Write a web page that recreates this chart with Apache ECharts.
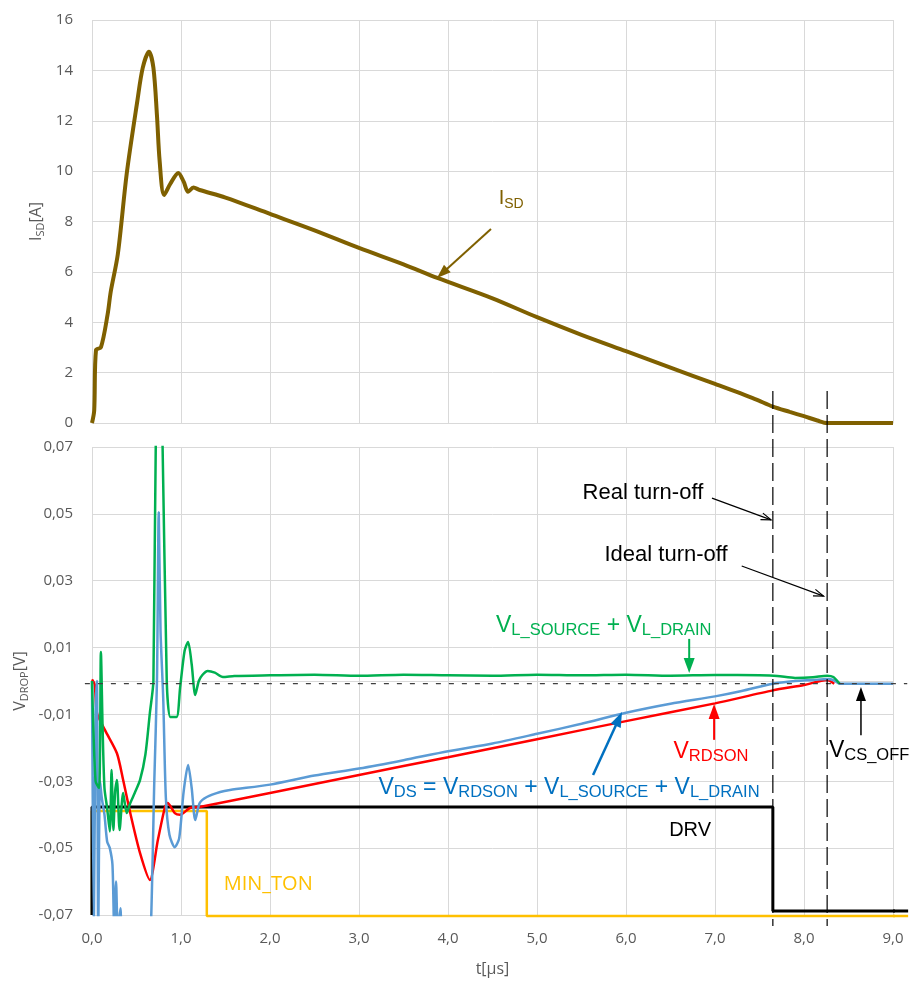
<!DOCTYPE html>
<html><head><meta charset="utf-8">
<script src="https://cdn.jsdelivr.net/npm/echarts/dist/echarts.min.js"></script>
<style>html,body{margin:0;padding:0;background:#fff}#c{width:910px;height:981px}</style>
</head><body><div id="c"></div>
<script>
// ---------- DATA ----------
const xTickLabels = ['0,0','1,0','2,0','3,0','4,0','5,0','6,0','7,0','8,0','9,0'];

const isdT = [0,0.025,0.045,0.1,0.175,0.21,0.29,0.39,0.51,0.57,0.64,0.69,0.73,0.76,0.81,0.88,0.97,1.03,1.08,1.14,1.21,1.5,2.0,2.5,3.0,3.5,3.88,4.5,5.0,5.5,6.0,6.5,7.0,7.45,7.65,7.84,8.0,8.15,8.26,9.0];
const isdA = [0,0.5,2.9,3.0,4.3,5.2,6.7,9.9,12.8,14.1,14.74,14.1,12.2,10.4,9.05,9.5,9.93,9.58,9.18,9.35,9.25,8.95,8.3,7.65,6.95,6.3,5.76,4.95,4.2,3.5,2.85,2.2,1.55,0.95,0.65,0.44,0.27,0.1,0,0];

const drvT = [0,0,7.65,7.65,9.17];
const drvV = [-0.07,-0.0377,-0.0377,-0.0688,-0.0688];

const minTonT = [0,0,1.29,1.29,9.17];
const minTonV = [-0.07,-0.0389,-0.0389,-0.0703,-0.0703];

const rdsT = [0,0.03,0.056,0.146,0.28,0.35,0.43,0.54,0.65,0.74,0.82,0.85,0.93,0.99,1.1,1.21,2.0,3.0,4.0,5.0,6.0,7.0,7.65,8.0,8.26,8.34];
const rdsV = [0.0005,-0.001,-0.0096,-0.0147,-0.0216,-0.0296,-0.0395,-0.0515,-0.0595,-0.0476,-0.0377,-0.0365,-0.0395,-0.040,-0.038,-0.0377,-0.0335,-0.0281,-0.0228,-0.0174,-0.012,-0.0067,-0.0028,-0.0012,0.0003,-0.0008];

const vlT = [0,0.04,0.08,0.1,0.12,0.14,0.17,0.2,0.22,0.24,0.26,0.28,0.31,0.35,0.39,0.43,0.48,0.54,0.6,0.65,0.69,0.72,0.76,0.79,0.84,0.88,0.95,0.99,1.04,1.08,1.12,1.16,1.2,1.24,1.3,1.38,1.47,1.6,2.0,2.5,3.0,3.5,4.0,4.5,5.0,5.5,6.0,6.5,7.0,7.5,7.7,7.9,8.1,8.26,8.33,8.4];
const vlV = [0,-0.03,-0.032,0.0087,-0.015,-0.032,-0.038,-0.045,-0.0266,-0.0446,-0.033,-0.0296,-0.0446,-0.0335,-0.0395,-0.0365,-0.0335,-0.0296,-0.022,-0.0096,0.0,0.08,0.09,0.075,0.0,-0.0108,-0.0108,-0.002,0.009,0.0117,0.005,-0.0042,0.0,0.0018,0.003,0.0025,0.0012,0.0015,0.0017,0.0019,0.0016,0.0019,0.0017,0.0016,0.0019,0.0017,0.0019,0.0016,0.0018,0.0017,0.0015,0.0009,0.0011,0.0016,0.0012,-0.0008];

const vdsT = [0,0.02,0.04,0.055,0.07,0.09,0.11,0.14,0.17,0.2,0.23,0.25,0.27,0.29,0.32,0.34,0.5,0.63,0.66,0.7,0.73,0.75,0.77,0.8,0.83,0.87,0.93,0.98,1.03,1.08,1.12,1.16,1.21,1.29,1.44,1.55,2.0,2.5,3.0,3.5,4.0,4.5,5.0,5.5,6.0,6.5,7.0,7.3,7.65,7.9,8.1,8.26,8.33,8.4,9.0];
const vdsV = [0,-0.075,-0.01,0,-0.075,-0.03,-0.035,-0.04,-0.048,-0.05,-0.055,-0.075,-0.06,-0.075,-0.068,-0.075,-0.08,-0.08,-0.075,-0.03,0.0,0.0505,0.015,-0.005,-0.035,-0.046,-0.0497,-0.047,-0.033,-0.0251,-0.032,-0.0416,-0.0365,-0.0347,-0.0332,-0.0326,-0.031,-0.0283,-0.0262,-0.0237,-0.021,-0.0187,-0.0158,-0.0128,-0.0095,-0.0068,-0.0046,-0.003,-0.0008,0.0,0.0003,0.0006,0.0003,-0.0008,-0.0008];

const turnOffT = [7.65, 8.26];   // real / ideal turn-off times
const zeroRef = -0.0008;         // dashed reference level

// ---------- CHART ----------
const zip = (a, b) => a.map((v, i) => [v, b[i]]);
const chart = echarts.init(document.getElementById('c'), null, {renderer: 'canvas'});
const LBL = '#595959', GRIDC = '#d9d9d9', AXF = 'Open Sans';
const ANF = 'Liberation Sans';

const option = {
  animation: false,
  backgroundColor: '#fff',
  grid: [
    {left: 92, right: 17, top: 20, height: 403, outerBoundsMode: 'none', containLabel: false},
    {left: 92, right: 17, top: 447, height: 468, outerBoundsMode: 'none', containLabel: false}
  ],
  xAxis: [
    {gridIndex: 0, type: 'value', min: 0, max: 9, interval: 1,
     axisLabel: {show: false}, axisTick: {show: false},
     axisLine: {show: true, lineStyle: {color: GRIDC}},
     splitLine: {show: true, lineStyle: {color: GRIDC, width: 1}}},
    {gridIndex: 1, type: 'value', min: 0, max: 9, interval: 1,
     name: 't[µs]', nameLocation: 'middle', nameGap: 46, nameMoveOverlap: false,
     nameTextStyle: {color: LBL, fontFamily: AXF, fontSize: 16},
     axisLabel: {color: LBL, fontFamily: AXF, fontSize: 15, margin: 16,
       formatter: v => xTickLabels[Math.round(v)], showMinLabel: true, showMaxLabel: true},
     axisTick: {show: false},
     axisLine: {show: true, lineStyle: {color: GRIDC}},
     splitLine: {show: true, lineStyle: {color: GRIDC, width: 1}}}
  ],
  yAxis: [
    {gridIndex: 0, type: 'value', min: 0, max: 16, interval: 2,
     name: '{n|I}{s|SD}{n|[A]}', nameLocation: 'middle', nameGap: 46, nameMoveOverlap: false,
     nameTextStyle: {color: LBL, fontFamily: AXF, fontSize: 16,
       rich: {n: {color: LBL, fontFamily: AXF, fontSize: 16, lineHeight: 20},
              s: {color: LBL, fontFamily: AXF, fontSize: 11, lineHeight: 12, verticalAlign: 'bottom'}}},
     axisLabel: {color: LBL, fontFamily: AXF, fontSize: 15, margin: 19},
     axisTick: {show: false},
     axisLine: {show: false},
     splitLine: {show: true, lineStyle: {color: GRIDC, width: 1}}},
    {gridIndex: 1, type: 'value', min: -0.07, max: 0.07, interval: 0.02,
     name: '{n|V}{s|DROP}{n|[V]}', nameLocation: 'middle', nameGap: 62, nameMoveOverlap: false,
     nameTextStyle: {color: LBL, fontFamily: AXF, fontSize: 16,
       rich: {n: {color: LBL, fontFamily: AXF, fontSize: 16, lineHeight: 20},
              s: {color: LBL, fontFamily: AXF, fontSize: 11, lineHeight: 12, verticalAlign: 'bottom'}}},
     axisLabel: {color: LBL, fontFamily: AXF, fontSize: 15, margin: 19,
       formatter: v => v.toFixed(2).replace('.', ','), showMinLabel: true, showMaxLabel: true},
     axisTick: {show: false},
     axisLine: {show: false},
     splitLine: {show: true, lineStyle: {color: GRIDC, width: 1}}}
  ],
  series: [
    {name: 'ISD', type: 'line', xAxisIndex: 0, yAxisIndex: 0, data: zip(isdT, isdA),
     symbol: 'none', smooth: 0.3, lineStyle: {color: '#7F6000', width: 4}, z: 5},
    {name: 'MIN_TON', type: 'line', xAxisIndex: 1, yAxisIndex: 1, data: zip(minTonT, minTonV),
     symbol: 'none', clip: false, lineStyle: {color: '#FFC000', width: 2.5}, z: 3},
    {name: 'DRV', type: 'line', xAxisIndex: 1, yAxisIndex: 1, data: zip(drvT, drvV),
     symbol: 'none', clip: false, lineStyle: {color: '#000000', width: 3}, z: 4},
    {name: 'VRDSON', type: 'line', xAxisIndex: 1, yAxisIndex: 1, data: zip(rdsT, rdsV),
     symbol: 'none', smooth: 0.25, lineStyle: {color: '#FF0000', width: 2.5}, z: 5},
    {name: 'VDS', type: 'line', xAxisIndex: 1, yAxisIndex: 1, data: zip(vdsT, vdsV),
     symbol: 'none', smooth: 0.25, lineStyle: {color: '#5B9BD5', width: 2.5}, z: 6},
    {name: 'VL', type: 'line', xAxisIndex: 1, yAxisIndex: 1, data: zip(vlT, vlV),
     symbol: 'none', smooth: 0.25, lineStyle: {color: '#00B050', width: 2.5}, z: 7}
  ]
};
chart.setOption(option);

// ---------- ANNOTATIONS (positioned through the chart scales) ----------
const P = (g, t, v) => chart.convertToPixel({gridIndex: g}, [t, v]);
const G = [];

function arrow(g0, a, g1, b, color, lw, hl, hw, open) {
  const p0 = P(g0, a[0], a[1]), p1 = P(g1, b[0], b[1]);
  const dx = p1[0] - p0[0], dy = p1[1] - p0[1], L = Math.hypot(dx, dy);
  const ux = dx / L, uy = dy / L, nx = -uy, ny = ux;
  const bx = p1[0] - ux * hl, by = p1[1] - uy * hl;
  const end = open ? p1 : [bx + ux, by + uy];
  G.push({type: 'line', z: 100, silent: true,
    shape: {x1: p0[0], y1: p0[1], x2: end[0], y2: end[1]}, style: {stroke: color, lineWidth: lw}});
  const pts = [[bx + nx * hw / 2, by + ny * hw / 2], p1, [bx - nx * hw / 2, by - ny * hw / 2]];
  if (open) G.push({type: 'polyline', z: 100, silent: true, shape: {points: pts}, style: {stroke: color, lineWidth: lw, fill: null}});
  else G.push({type: 'polygon', z: 100, silent: true, shape: {points: pts}, style: {fill: color}});
}

function text(g, t, v, str, color, rich, align, font, size) {
  const p = P(g, t, v);
  G.push({type: 'text', z: 100, silent: true, x: p[0], y: p[1],
    style: {text: str, fill: color, align: align || 'center', verticalAlign: 'middle',
      fontFamily: font || ANF, fontSize: size || 20, rich: rich || undefined}});
}

function subRich(color, vs, ss) {
  return {
    v: {fill: color, fontFamily: ANF, fontSize: vs, lineHeight: 26, verticalAlign: 'middle'},
    s: {fill: color, fontFamily: ANF, fontSize: ss, lineHeight: 16, verticalAlign: 'bottom'}
  };
}

// vertical dashed turn-off lines spanning both plots
turnOffT.forEach(t => {
  const a = P(0, t, 1.27), b = P(1, t, -0.0733);
  G.push({type: 'line', z: 90, silent: true, shape: {x1: a[0], y1: a[1], x2: b[0], y2: b[1]},
    style: {stroke: '#000', lineWidth: 1.2, lineDash: [18, 6]}});
});
// horizontal dashed zero reference
{
  const a = P(1, -0.08, zeroRef), b = P(1, 9.16, zeroRef);
  G.push({type: 'line', z: 8, silent: true, shape: {x1: a[0], y1: a[1], x2: b[0], y2: b[1]},
    style: {stroke: '#404040', lineWidth: 1.3, lineDash: [5, 8]}});
}
// DRV / MIN_TON traces run a little past the last grid line in the reference
{
  const segs = [[minTonT, minTonV, '#FFC000', 2.5], [drvT, drvV, '#000', 3]];
  segs.forEach(([T, V, c, w]) => {
    const n = T.length - 1;
    const a = P(1, 9.0, V[n]), b = P(1, T[n], V[n]);
    G.push({type: 'line', z: 50, silent: true, shape: {x1: a[0], y1: a[1], x2: b[0], y2: b[1]},
      style: {stroke: c, lineWidth: w}});
  });
}

const BROWN = '#7F6000', GREEN = '#00B050', RED = '#FF0000', BLUE = '#0070C0';
text(0, 4.71, 8.93, '{v|I}{s|SD}', BROWN, subRich(BROWN, 20, 14));
arrow(0, [4.483, 7.70], 0, [3.876, 5.76], BROWN, 2, 14, 10, false);

text(1, 6.19, 0.0562, 'Real turn-off', '#000', null, 'center', ANF, 22);
arrow(1, [6.966, 0.0547], 1, [7.63, 0.0482], '#000', 1.2, 10, 7, true);
text(1, 6.45, 0.0377, 'Ideal turn-off', '#000', null, 'center', ANF, 22);
arrow(1, [7.30, 0.0344], 1, [8.22, 0.0254], '#000', 1.2, 10, 7, true);

text(1, 5.75, 0.0165, '{v|V}{s|L_SOURCE}{v| + V}{s|L_DRAIN}', GREEN, subRich(GREEN, 23, 16.5));
arrow(1, [6.71, 0.0126], 1, [6.71, 0.0024], GREEN, 2, 15, 11, false);

text(1, 6.955, -0.0212, '{v|V}{s|RDSON}', RED, subRich(RED, 23, 16.5));
arrow(1, [6.99, -0.0176], 1, [6.99, -0.0069], RED, 2, 15, 11, false);

text(1, 8.28, -0.0209, '{v|V}{s|CS_OFF}', '#000', subRich('#000', 23, 16.5), 'left');
arrow(1, [8.64, -0.0162], 1, [8.64, -0.0018], '#000', 1.5, 14, 10, false);

text(1, 5.36, -0.032, '{v|V}{s|DS}{v| = V}{s|RDSON}{v| + V}{s|L_SOURCE}{v| + V}{s|L_DRAIN}', BLUE, subRich(BLUE, 23, 16.5));
arrow(1, [5.63, -0.0281], 1, [5.955, -0.0093], BLUE, 2.5, 15, 11, false);

text(1, 6.72, -0.0446, 'DRV', '#000');
text(1, 1.98, -0.0607, 'MIN_TON', '#FFC000', null, 'center', 'Open Sans', 20);

chart.setOption({graphic: {elements: G}});
</script></body></html>
